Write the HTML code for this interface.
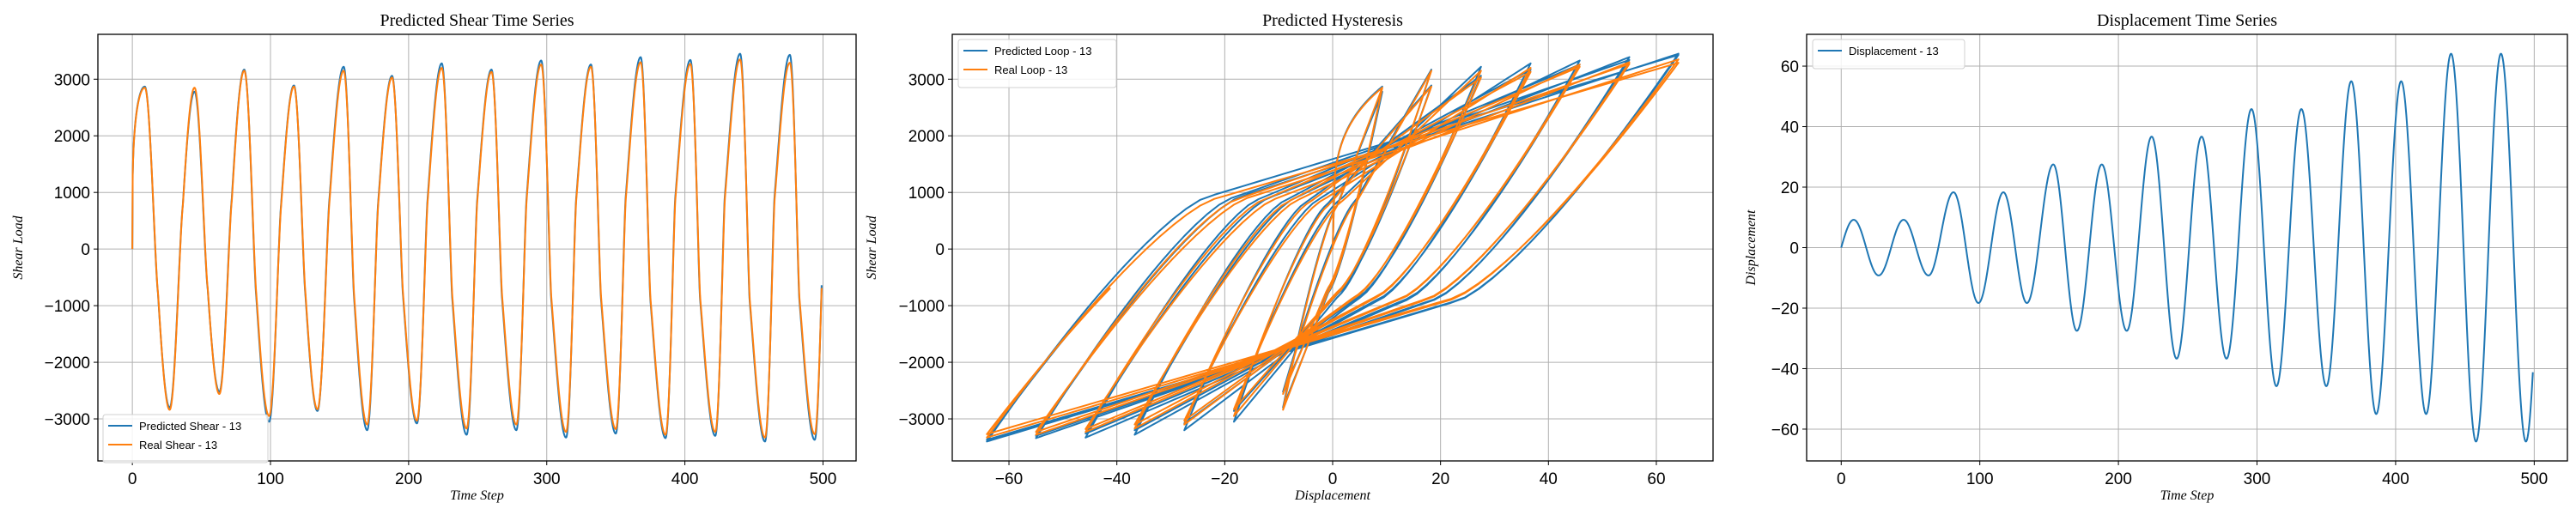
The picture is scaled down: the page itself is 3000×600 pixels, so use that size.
<!DOCTYPE html>
<html><head><meta charset="utf-8"><style>
html,body{margin:0;padding:0;background:#fff;}
svg{display:block;}
.tk{font-family:"Liberation Sans",sans-serif;font-size:19px;fill:#000;}
.ttl{font-family:"Liberation Serif",serif;font-size:20px;fill:#000;}
.al{font-family:"Liberation Serif",serif;font-style:italic;font-size:16px;fill:#000;}
.lg{font-family:"Liberation Sans",sans-serif;font-size:13px;fill:#000;}
</style></head><body>
<svg id="fig" width="3000" height="600" viewBox="0 0 3000 600" xmlns="http://www.w3.org/2000/svg">
<rect width="3000" height="600" fill="#fff"/>
</svg>
<script>
// ---- data ----
const extremaTimes = [0,9,27,45,63,81,99,117,134,153,170,188,206,224,242,260,278,296,314,332,350,368,386,404,422,440,458,476,494,512];
const dispExtrema = [0,9.2,-9.2,9.2,-9.2,18.3,-18.3,18.3,-18.3,27.5,-27.5,27.5,-27.5,36.7,-36.7,36.7,-36.7,45.8,-45.8,45.8,-45.8,55,-55,55,-55,64.1,-64.1,64.1,-64.1,64.1];
const realShearExtrema = [0,2850,-2840,2850,-2560,3150,-2950,2870,-2830,3150,-3100,3030,-3030,3200,-3170,3130,-3100,3260,-3230,3220,-3180,3300,-3280,3270,-3230,3350,-3330,3290,-3270,3300];
const predShearExtrema = [0,2870,-2800,2780,-2520,3170,-3050,2890,-2860,3220,-3200,3060,-3080,3280,-3280,3170,-3200,3330,-3330,3260,-3260,3390,-3340,3340,-3300,3450,-3400,3430,-3370,3400];
const realKnotRatio = [0,.55,.55,.55,.50,.48,.48,.48,.44,.42,.42,.42,.40,.39,.39,.39,.37,.36,.36,.36,.35,.34,.34,.34,.33,.33,.33,.33,.34];
const predKnotRatio = [0,.54,.54,.54,.49,.47,.47,.47,.43,.41,.41,.41,.39,.38,.38,.38,.36,.35,.35,.35,.34,.33,.33,.33,.32,.32,.32,.32,.33];
const knotLevel = [0.27];
const lastStep = 499;
const timeTicks = [0,100,200,300,400,500];
const shearTicks = [-3000,-2000,-1000,0,1000,2000,3000];
const dispTicks = [-60,-40,-20,0,20,40,60];

const NS = "http://www.w3.org/2000/svg";
const fig = document.getElementById('fig');
function el(tag, attrs, parent){ const e=document.createElementNS(NS,tag); for(const k in attrs) e.setAttribute(k,attrs[k]); (parent||fig).appendChild(e); return e; }

function sample(shearExt, ratios){
  const T=[],D=[],S=[];
  for(let t=0;t<=lastStep+1e-9;t+=0.25){
    let k=0; while(k<extremaTimes.length-2 && t>extremaTimes[k+1]) k++;
    const t0=extremaTimes[k],t1=extremaTimes[k+1];
    const u=(t-t0)/(t1-t0);
    const d0=dispExtrema[k],d1=dispExtrema[k+1];
    const frac = k===0 ? Math.sin(Math.PI*u/2) : (1-Math.cos(Math.PI*u))/2;
    const d=d0+(d1-d0)*frac;
    const s0=shearExt[k],s1=shearExt[k+1],r=ratios[k];
    const sk=s1*knotLevel[0];
    let s;
    if(k===0) s=s1*Math.pow(frac,0.25);
    else if(frac<r){ const x=frac/r; s=s0+(sk-s0)*(1-Math.pow(1-x,1.3)); }
    else s=sk+(s1-sk)*(frac-r)/(1-r);
    T.push(t);D.push(d);S.push(s);
  }
  return {T,D,S};
}
const real=sample(realShearExtrema,realKnotRatio);
const pred=sample(predShearExtrema,predKnotRatio);

function lim(arrs){ let mn=Infinity,mx=-Infinity; arrs.forEach(a=>a.forEach(v=>{if(v<mn)mn=v;if(v>mx)mx=v;})); const m=(mx-mn)*0.05; return [mn-m,mx+m]; }
const fmt=v=> v<0 ? "\u2212"+Math.abs(v) : ""+v;

function panel(o){
  const g=el('g',{});
  
  
  const sx=v=>o.L+(v-o.xl[0])/(o.xl[1]-o.xl[0])*(o.R-o.L);
  const sy=v=>o.B-(v-o.yl[0])/(o.yl[1]-o.yl[0])*(o.B-o.T);
  const grid=el('g',{},g);  
  o.xt.forEach(v=>{ const x=sx(v);
    el('line',{x1:x,x2:x,y1:o.T,y2:o.B,stroke:'#b0b0b0','stroke-width':1},grid);
    el('line',{x1:x,x2:x,y1:o.B,y2:o.B+5,stroke:'#000','stroke-width':1},g);
    const t=el('text',{x:x,y:o.B+27,'text-anchor':'middle',class:'tk'},g); t.textContent=fmt(v);
     
  });
  o.yt.forEach(v=>{ const y=sy(v);
    el('line',{x1:o.L,x2:o.R,y1:y,y2:y,stroke:'#b0b0b0','stroke-width':1},grid);
    el('line',{x1:o.L-5,x2:o.L,y1:y,y2:y,stroke:'#000','stroke-width':1},g);
    const t=el('text',{x:o.L-9,y:y+7,'text-anchor':'end',class:'tk'},g); t.textContent=fmt(v);
     
  });
  const clipId='c'+o.name;
  const cp=el('clipPath',{id:clipId},g); el('rect',{x:o.L,y:o.T,width:o.R-o.L,height:o.B-o.T},cp);
  o.series.forEach(s=>{
    let p=''; for(let i=0;i<s.x.length;i++) p+=(i?'L':'M')+sx(s.x[i]).toFixed(2)+' '+sy(s.y[i]).toFixed(2);
    const path=el('path',{d:p,fill:'none',stroke:s.c,'stroke-width':2,'stroke-linejoin':'round','clip-path':'url(#'+clipId+')'},g);
     
  });
  const fr=el('rect',{x:o.L,y:o.T,width:o.R-o.L,height:o.B-o.T,fill:'none',stroke:'#000','stroke-width':1.3},g);
   
  const tt=el('text',{x:(o.L+o.R)/2,y:30,'text-anchor':'middle',class:'ttl'},g); tt.textContent=o.title;
   
  const xl=el('text',{x:(o.L+o.R)/2,y:582,'text-anchor':'middle',class:'al'},g); xl.textContent=o.xlab;
   
  const yl=el('text',{x:0,y:0,'text-anchor':'middle',class:'al',transform:'translate('+o.ylx+','+((o.T+o.B)/2)+') rotate(-90)'},g); yl.textContent=o.ylab;
   
  const lg=el('g',{},g);  
  el('rect',{x:o.lg.x,y:o.lg.y,width:o.lg.w,height:12+22*o.series.length,rx:3,fill:'#fff','fill-opacity':0.85,stroke:'#d0d0d0','stroke-width':1},lg);
  o.series.forEach((s,i)=>{ const y=o.lg.y+13+22*i;
    el('line',{x1:o.lg.x+6,x2:o.lg.x+34,y1:y,y2:y,stroke:s.c,'stroke-width':2},lg);
    const t=el('text',{x:o.lg.x+42,y:y+5,class:'lg'},lg); t.textContent=s.label;
     
  });
}
const BLUE='#1f77b4',ORANGE='#ff7f0e';
const shearLim=lim([real.S,pred.S]);
const timeLim=[-lastStep*0.05,lastStep*1.05];
panel({name:'shear-time-series-panel',L:114,R:997,T:40,B:537,xl:timeLim,yl:shearLim,xt:timeTicks,yt:shearTicks,
  title:'Predicted Shear Time Series',xlab:'Time Step',ylab:'Shear Load',ylx:26,lg:{x:120,y:483,w:192},
  series:[{n:'predicted-shear-line',x:pred.T,y:pred.S,c:BLUE,label:'Predicted Shear - 13'},{n:'real-shear-line',x:real.T,y:real.S,c:ORANGE,label:'Real Shear - 13'}]});
const dispLim=lim([real.D]);
panel({name:'hysteresis-panel',L:1109,R:1995,T:40,B:537,xl:dispLim,yl:shearLim,xt:dispTicks,yt:shearTicks,
  title:'Predicted Hysteresis',xlab:'Displacement',ylab:'Shear Load',ylx:1020,lg:{x:1116,y:46,w:184},
  series:[{n:'predicted-loop-line',x:pred.D,y:pred.S,c:BLUE,label:'Predicted Loop - 13'},{n:'real-loop-line',x:real.D,y:real.S,c:ORANGE,label:'Real Loop - 13'}]});
panel({name:'displacement-time-series-panel',L:2104,R:2990,T:40,B:537,xl:timeLim,yl:dispLim,xt:timeTicks,yt:dispTicks,
  title:'Displacement Time Series',xlab:'Time Step',ylab:'Displacement',ylx:2044,lg:{x:2111,y:46,w:177},
  series:[{n:'displacement-line',x:real.T,y:real.D,c:BLUE,label:'Displacement - 13'}]});
</script>
</body></html>
